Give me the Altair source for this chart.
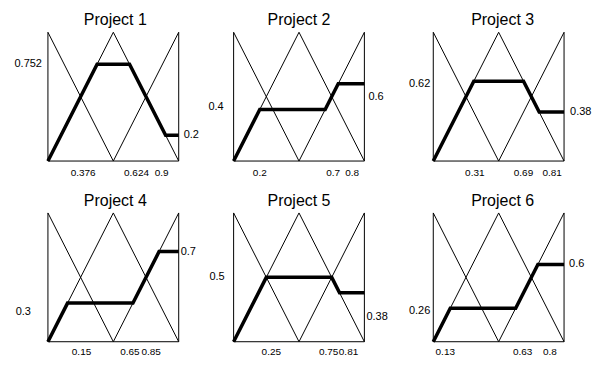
import altair as alt
import pandas as pd

# ---------------- data ----------------
PROJECTS = ["Project 1", "Project 2", "Project 3", "Project 4", "Project 5", "Project 6"]
RISE_X = [0.376, 0.2, 0.31, 0.15, 0.25, 0.13]        # end of first rise
PLATEAU = [0.752, 0.4, 0.62, 0.3, 0.5, 0.26]         # first plateau level
PLATEAU_END_X = [0.624, 0.7, 0.69, 0.65, 0.75, 0.63]  # end of plateau
TAIL_X = [0.9, 0.8, 0.81, 0.85, 0.81, 0.8]            # start of tail
TAIL = [0.2, 0.6, 0.38, 0.7, 0.38, 0.6]               # tail level

# triangular membership functions (shared by all panels)
MF_LOW_X, MF_LOW_Y = [0.0, 0.5], [1.0, 0.0]
MF_MED_X, MF_MED_Y = [0.0, 0.5, 1.0], [0.0, 1.0, 0.0]
MF_HIGH_X, MF_HIGH_Y = [0.5, 1.0], [0.0, 1.0]
FRAME_L_X, FRAME_L_Y = [0.0, 0.0], [0.0, 1.0]
FRAME_R_X, FRAME_R_Y = [1.0, 1.0], [0.0, 1.0]
FRAME_B_X, FRAME_B_Y = [0.0, 1.0], [0.0, 0.0]

# ---------------- style ----------------
FONT = "Liberation Sans"
W, H = 131, 129
EXTRA_W = [0, 14, 0]          # extra empty room to the right of a column
BOTTOM_DX = [[-14, 7, -4], [0, 8, 14], [1, 0, 13], [14, -3, -8], [5, -3, 9], [-5, 7, 12]]
BOTTOM_DY = [12, 10]          # per row
LEFT_DX = [-6, -10, -3, -17, -9, -3]
LEFT_DY = [0, -3, 3, 9, 0, 3]
RIGHT_DX = [5, 4, 6, 2, 2, 5]
RIGHT_DY = [0, 13, 0, 0, 24, 0]
TITLE_DX = [2, 0, 4, 2, 0, 4]


def fmt(v):
    return f"{v:g}"


def panel(i):
    col = i % 3
    w = W + EXTRA_W[col]
    xs = alt.Scale(domain=[0, w / W], nice=False, zero=False)
    ys = alt.Scale(domain=[0, 1], nice=False, zero=False)

    rows = []
    for name, xx, yy in [("low", MF_LOW_X, MF_LOW_Y), ("med", MF_MED_X, MF_MED_Y),
                         ("high", MF_HIGH_X, MF_HIGH_Y), ("fl", FRAME_L_X, FRAME_L_Y),
                         ("fr", FRAME_R_X, FRAME_R_Y), ("fb", FRAME_B_X, FRAME_B_Y)]:
        for k, (x, y) in enumerate(zip(xx, yy)):
            rows.append({"set": name, "k": k, "x": x, "y": y})
    mf = pd.DataFrame(rows)

    X = alt.X("x:Q", scale=xs, axis=None)
    Y = alt.Y("y:Q", scale=ys, axis=None)

    thin = alt.Chart(mf).mark_line(color="black", strokeWidth=1, clip=False).encode(
        x=X, y=Y, detail="set:N", order="k:Q")

    agg = pd.DataFrame({
        "x": [0.0, RISE_X[i], PLATEAU_END_X[i], TAIL_X[i], 1.0],
        "y": [0.0, PLATEAU[i], PLATEAU[i], TAIL[i], TAIL[i]],
        "k": list(range(5)),
    })
    thick = alt.Chart(agg).mark_line(color="black", strokeWidth=3.5, clip=False).encode(
        x=X, y=Y, order="k:Q")

    layers = [thin, thick]
    for j, v in enumerate([RISE_X[i], PLATEAU_END_X[i], TAIL_X[i]]):
        d = pd.DataFrame({"x": [v], "y": [0.0], "t": [fmt(v)]})
        layers.append(alt.Chart(d).mark_text(
            font=FONT, fontSize=10, color="black", align="center", baseline="middle",
            dx=BOTTOM_DX[i][j], dy=BOTTOM_DY[i // 3], clip=False).encode(x=X, y=Y, text="t:N"))
    dl = pd.DataFrame({"x": [0.0], "y": [PLATEAU[i]], "t": [fmt(PLATEAU[i])]})
    layers.append(alt.Chart(dl).mark_text(
        font=FONT, fontSize=11, color="black", align="right", baseline="middle",
        dx=LEFT_DX[i], dy=LEFT_DY[i], clip=False).encode(x=X, y=Y, text="t:N"))
    dr = pd.DataFrame({"x": [1.0], "y": [TAIL[i]], "t": [fmt(TAIL[i])]})
    layers.append(alt.Chart(dr).mark_text(
        font=FONT, fontSize=11, color="black", align="left", baseline="middle",
        dx=RIGHT_DX[i], dy=RIGHT_DY[i], clip=False).encode(x=X, y=Y, text="t:N"))
    # panel title, centred over the membership-function box
    dt = pd.DataFrame({"x": [0.5], "y": [1.0], "t": [PROJECTS[i]]})
    layers.append(alt.Chart(dt).mark_text(
        font=FONT, fontSize=16, color="black", align="center", baseline="alphabetic",
        dx=TITLE_DX[i], dy=-7, clip=False).encode(x=X, y=Y, text="t:N"))

    return alt.layer(*layers).properties(width=w, height=H)


chart = alt.concat(*[panel(i) for i in range(6)], columns=3,
                   spacing={"row": 52, "column": 55}, bounds="flush").properties(
    padding={"left": 6, "top": 4, "right": 0, "bottom": -1},
    background="white",
).configure_view(strokeWidth=0)

chart.save("out.html", embed_options={"renderer": "svg", "actions": False})
